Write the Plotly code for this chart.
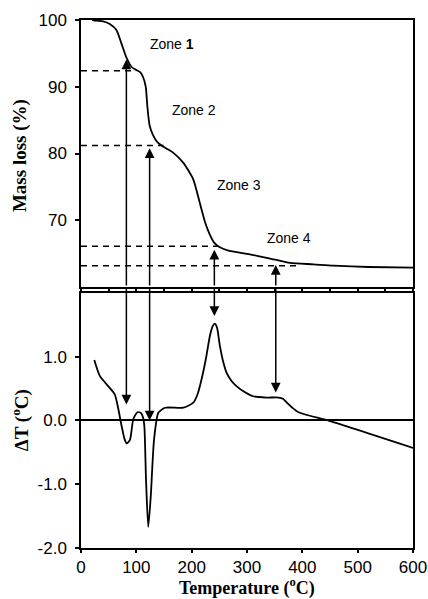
import plotly.graph_objects as go

# ---- data ----
mass_T = [20, 28, 40, 52, 64, 73, 82, 91, 100, 107, 112, 117, 120, 124, 130, 138, 149,
          167, 185, 203, 215, 225, 233, 241, 250, 265, 305, 340, 378, 420, 456, 520, 600]
mass_val = [100, 99.9, 99.8, 99.4, 98.5, 96.5, 94.4, 93.0, 92.5, 92.2, 91.5, 90.0, 87.0,
            84.2, 82.8, 81.7, 81.0, 80.1, 78.6, 76.1, 72.5, 69.5, 67.8, 66.6, 66.0, 65.5,
            64.9, 64.3, 63.6, 63.4, 63.2, 63.0, 62.9]

dta_T = [24, 34, 46, 61, 67, 73.5, 79, 83, 88.6, 94.5, 102, 108, 112, 114.5, 117.5, 121.5,
         126, 132, 139.8, 151.8, 185, 203, 211, 218, 226, 233, 238, 242, 246, 251, 257, 263,
         272, 281, 295, 311, 335, 357, 365, 372, 382, 393, 450, 600]
dta_val = [0.95, 0.70, 0.57, 0.41, 0.20, -0.09, -0.30, -0.36, -0.30, 0.02, 0.13, 0.12, 0.05,
           -0.09, -0.93, -1.67, -1.20, -0.30, 0.12, 0.20, 0.20, 0.28, 0.42, 0.65, 0.98, 1.33,
           1.48, 1.52, 1.45, 1.17, 0.92, 0.75, 0.62, 0.54, 0.45, 0.38, 0.36, 0.36, 0.34, 0.28,
           0.20, 0.13, -0.01, -0.43]

# dashed reference levels (mass %) and where they end (temperature)
dash_levels = [92.4, 81.2, 66.1, 63.2]
dash_ends = [92, 149, 248, 396]

# arrows: temperature, tip on mass curve, tip on DTA curve
arrow_T = [82, 124, 241, 352]
arrow_mass_tip = [94.1, 80.8, 65.6, 63.3]
arrow_dta_tip = [0.25, 0.0, 1.64, 0.44]

zone_labels = ["Zone <b>1</b>", "Zone 2", "Zone 3", "Zone 4"]
zone_T = [165, 204, 286, 376]
zone_mass = [96.4, 86.5, 75.3, 67.3]

x_ticks = [0, 100, 200, 300, 400, 500, 600]
mass_ticks = [70, 80, 90, 100]
dta_ticks = [-2, -1, 0, 1]
dta_ticktext = ["-2.0", "-1.0", "0.0", "1.0"]

# ---- figure ----
fig = go.Figure()
fig.add_trace(go.Scatter(x=mass_T, y=mass_val, mode="lines", xaxis="x", yaxis="y",
                         line=dict(color="black", width=1.8, shape="spline", smoothing=0.6),
                         showlegend=False, hoverinfo="skip"))
for lev, end in zip(dash_levels, dash_ends):
    fig.add_trace(go.Scatter(x=[0, end], y=[lev, lev], mode="lines", xaxis="x", yaxis="y",
                             line=dict(color="black", width=1.5, dash="6px,5px"),
                             showlegend=False, hoverinfo="skip"))
fig.add_trace(go.Scatter(x=dta_T, y=dta_val, mode="lines", xaxis="x2", yaxis="y2",
                         line=dict(color="black", width=1.8, shape="spline", smoothing=0.6),
                         showlegend=False, hoverinfo="skip"))

annotations = []
for t, mt, dt in zip(arrow_T, arrow_mass_tip, arrow_dta_tip):
    annotations.append(dict(x=t, y=mt, xref="x", yref="y", ax=t, ay=60, axref="x", ayref="y",
                            text="", showarrow=True, arrowhead=2, arrowsize=1.3,
                            arrowwidth=1.5, arrowcolor="black"))
    annotations.append(dict(x=t, y=dt, xref="x2", yref="y2", ax=t, ay=2.1, axref="x2", ayref="y2",
                            text="", showarrow=True, arrowhead=2, arrowsize=1.3,
                            arrowwidth=1.5, arrowcolor="black"))
for lab, t, m in zip(zone_labels, zone_T, zone_mass):
    annotations.append(dict(x=t, y=m, xref="x", yref="y", text=lab, showarrow=False,
                            font=dict(family="Liberation Sans", size=14, color="black")))

title_font = dict(family="Liberation Serif", size=19, color="black")
annotations.append(dict(x=-0.184, y=0.744, xref="paper", yref="paper",
                        xanchor="center", yanchor="middle", text="<b>Mass loss (%)</b>",
                        textangle=-90, showarrow=False, font=title_font))
annotations.append(dict(x=-0.184, y=0.242, xref="paper", yref="paper",
                        xanchor="center", yanchor="middle",
                        text="<b>ΔT (<sup>o</sup>C)</b>", textangle=-90, showarrow=False,
                        font=title_font))
annotations.append(dict(x=0.5, y=-0.074, xref="paper", yref="paper",
                        xanchor="center", yanchor="middle",
                        text="<b>Temperature (<sup>o</sup>C)</b>", showarrow=False,
                        font=dict(family="Liberation Serif", size=18, color="black")))

tickfont = dict(family="Liberation Sans", size=17, color="black")
axis_common = dict(showline=True, linecolor="black", linewidth=1.5, mirror=True,
                   showgrid=False, zeroline=False, ticks="outside", tickcolor="black",
                   tickwidth=1.5, automargin=False)

fig.update_layout(
    width=428, height=599,
    margin=dict(l=81, r=15, t=20, b=51, autoexpand=False),
    paper_bgcolor="white", plot_bgcolor="white",
    xaxis=dict(domain=[0, 1], range=[0, 600], anchor="y", dtick=50, tick0=0, ticklen=3,
               showticklabels=False, **axis_common),
    yaxis=dict(domain=[0.4943, 1], range=[60, 100], anchor="x", tickvals=mass_ticks,
               ticklen=4, tickfont=tickfont, ticklabelstandoff=5, **axis_common),
    xaxis2=dict(domain=[0, 1], range=[0, 600], anchor="y2", tickvals=x_ticks, ticklen=3,
                tickfont=tickfont, **axis_common),
    yaxis2=dict(domain=[0, 0.483], range=[-2, 2], anchor="x2", tickvals=dta_ticks,
                ticktext=dta_ticktext, ticklen=4, tickfont=tickfont, ticklabelstandoff=5,
                **{**axis_common, "zeroline": True}, zerolinecolor="black", zerolinewidth=1.5),
    annotations=annotations,
)

fig.write_html("out.html", config={"displayModeBar": False},
               post_script="document.body.style.margin='0';document.body.style.overflow='hidden';")
